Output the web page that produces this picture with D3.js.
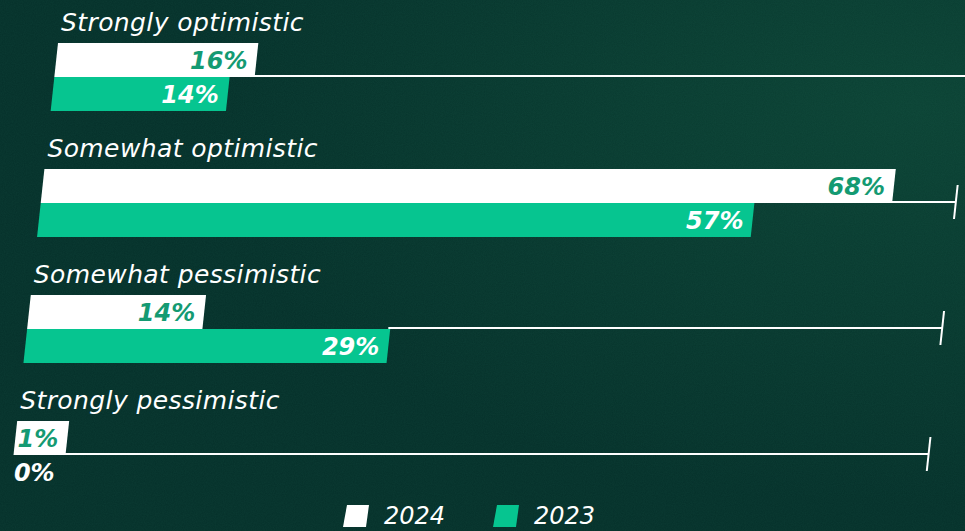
<!DOCTYPE html>
<html>
<head>
<meta charset="utf-8">
<title></title>
<script src="https://cdn.jsdelivr.net/npm/d3@7"></script>
<style>
	body { margin: 0; overflow: hidden; background: #06322a; }
	svg { display: block; }
</style>
</head>
<body>
<div id='chart'></div>
<script type="text/javascript">

var categories = ['Strongly optimistic', 'Somewhat optimistic', 'Somewhat pessimistic', 'Strongly pessimistic'];
var values2024 = [16, 68, 14, 1];
var values2023 = [14, 57, 29, 0];
var years = ['2024', '2023'];

var width = 965,
	height = 531;

var barColors = ['#ffffff', '#06c590'];
var labelColors = ['#149a72', '#ffffff'];

// the whole chart leans, bars start on a slanted edge
var slant = 0.108,
	edge_x0 = 58,
	edge_y0 = 43;

function edge(y) {
	return edge_x0 - slant * (y - edge_y0);
}

var barH = 34,
	minW = 52,
	lineLen = 915;

var svg = d3.select('#chart').append('svg')
	.attr('width', width)
	.attr('height', height);

var defs = svg.append('defs');

var grad = defs.append('radialGradient')
	.attr('id', 'bg')
	.attr('cx', '0.95').attr('cy', '0.2').attr('r', '0.75');
grad.append('stop').attr('offset', '0').attr('stop-color', '#0b4234');
grad.append('stop').attr('offset', '1').attr('stop-color', '#05302a');

var noise = defs.append('filter').attr('id', 'noise');
noise.append('feTurbulence')
	.attr('type', 'fractalNoise')
	.attr('baseFrequency', 0.9)
	.attr('numOctaves', 2)
	.attr('result', 'n');
noise.append('feColorMatrix')
	.attr('type', 'matrix')
	.attr('values', '0 0 0 0 0.05  0 0 0 0 0.3  0 0 0 0 0.2  0 0 0 0.1 0');

svg.append('rect').attr('width', width).attr('height', height).attr('fill', 'url(#bg)');
svg.append('rect').attr('width', width).attr('height', height).attr('filter', 'url(#noise)');

var y = d3.scaleBand()
	.domain(categories)
	.range([43, 43 + 126 * categories.length]);

var x = d3.scaleLinear()
	.domain([0, 73])
	.range([0, 914]);

var rows = categories.map(function(c, i) {
	return {cat: c, vals: [values2024[i], values2023[i]]};
});

function barWidth(v) {
	return v > 0 ? Math.max(x(v), minW) : 0;
}

var groups = svg.selectAll('.group').data(rows)
	.enter().append('g').classed('group', true);

// category labels
groups.append('text')
	.attr('x', function(d) { return edge(y(d.cat)) + 3; })
	.attr('y', function(d) { return y(d.cat) - 12; })
	.attr('fill', '#ffffff')
	.style('font-family', 'DejaVu Sans')
	.style('font-style', 'italic')
	.style('font-size', '25px')
	.style('letter-spacing', '0.4px')
	.text(function(d) { return d.cat; });

// base line with end tick
groups.each(function(d) {
	var g = d3.select(this);
	var yb = y(d.cat) + barH - 1;
	var start = d3.max(d.vals, function(v) {
		return barWidth(v) > 0 ? edge(yb) + barWidth(v) - 2 : edge(yb);
	});
	var end = edge(yb) + lineLen;
	g.append('line')
		.attr('x1', start).attr('y1', yb)
		.attr('x2', end).attr('y2', yb)
		.attr('stroke', '#ffffff').attr('stroke-width', 2);
	g.append('line')
		.attr('x1', edge(yb - 17) + lineLen).attr('y1', yb - 17)
		.attr('x2', edge(yb + 17) + lineLen).attr('y2', yb + 17)
		.attr('stroke', '#ffffff').attr('stroke-width', 2);
});

// bars
groups.each(function(d) {
	var g = d3.select(this);
	d.vals.forEach(function(v, s) {
		var top = y(d.cat) + s * barH,
			bot = top + barH,
			w = barWidth(v);
		if (w > 0) {
			g.append('path')
				.attr('d', d3.line()([
					[edge(top), top],
					[edge(top) + w, top],
					[edge(bot) + w, bot],
					[edge(bot), bot]
				]) + 'Z')
				.attr('fill', barColors[s]);
		}
		var mid = top + barH / 2;
		g.append('text')
			.attr('x', edge(mid) + Math.max(w, minW) - 9)
			.attr('y', mid + 9)
			.attr('text-anchor', 'end')
			.attr('fill', w > 0 ? labelColors[s] : '#ffffff')
			.style('font-family', 'DejaVu Sans')
			.style('font-style', 'italic')
			.style('font-weight', 'bold')
			.style('font-size', '24px')
			.text(v + '%');
	});
});

// legend
var legX = [345, 495];
var leg = svg.selectAll('.leg').data(years)
	.enter().append('g').classed('leg', true)
	.attr('transform', function(d, i) { return 'translate(' + legX[i] + ',505)'; });

leg.append('path')
	.attr('d', 'M2,0 L24,0 L21,22 L-2,22 Z')
	.attr('fill', function(d, i) { return barColors[i]; });

leg.append('text')
	.attr('x', 39)
	.attr('y', 19)
	.attr('fill', '#ffffff')
	.style('font-family', 'DejaVu Sans')
	.style('font-style', 'italic')
	.style('font-size', '24px')
	.text(function(d) { return d; });

</script>
</body>
</html>
